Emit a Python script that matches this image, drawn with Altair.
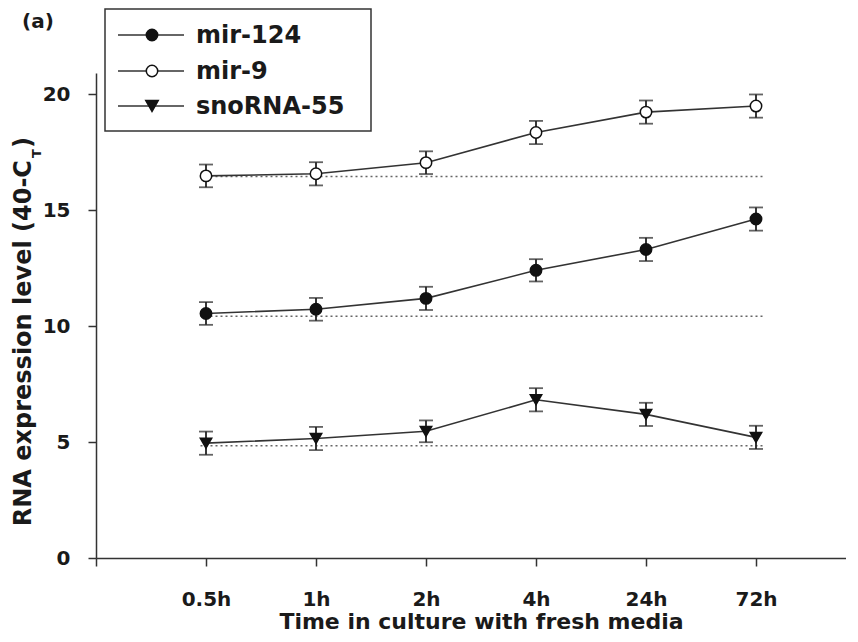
import altair as alt
import pandas as pd

# ---------------- data ----------------
times = ["0.5h", "1h", "2h", "4h", "24h", "72h"]
series_names = ["mir-124", "mir-9", "snoRNA-55"]

mir124 = [10.54, 10.72, 11.19, 12.40, 13.30, 14.61]
mir124_err = [0.49, 0.49, 0.50, 0.48, 0.50, 0.50]

mir9 = [16.47, 16.56, 17.04, 18.34, 19.22, 19.48]
mir9_err = [0.49, 0.50, 0.49, 0.50, 0.50, 0.50]

sno55 = [4.95, 5.15, 5.46, 6.82, 6.19, 5.20]
sno55_err = [0.50, 0.50, 0.47, 0.50, 0.50, 0.50]

baselines = [10.42, 16.44, 4.84]          # dotted reference levels
baseline_span = [0.95, 6.08]              # x extent of dotted lines (in slot units)
y_ticks = [0, 5, 10, 15, 20]

# ---------------- tables ----------------
rows = []
for name, vals, errs in zip(series_names, [mir124, mir9, sno55],
                            [mir124_err, mir9_err, sno55_err]):
    for i, (v, e) in enumerate(zip(vals, errs)):
        rows.append(dict(series=name, pos=i + 1, time=times[i],
                         value=v, lo=v - e, hi=v + e))
df = pd.DataFrame(rows)
base_df = pd.DataFrame({"series": series_names, "level": baselines,
                        "x0": baseline_span[0], "x1": baseline_span[1]})

# ---------------- layout ----------------
W, H = 750, 485
PX_PER_SLOT = 110
PX_PER_UNIT = 23.2
FONT = "DejaVu Sans"
INK = "#1a1a1a"

xs = alt.Scale(domain=[0, W / PX_PER_SLOT], nice=False, zero=False)
ys = alt.Scale(domain=[0, H / PX_PER_UNIT], nice=False, zero=True)

label_expr = "[" + ",".join(["''"] + ["'%s'" % t for t in times]) + "][datum.value]"

x_axis = alt.Axis(values=list(range(0, len(times) + 1)), labelExpr=label_expr,
                  title="Time in culture with fresh media", grid=False,
                  tickSize=8, tickWidth=1.5, tickColor="#333",
                  domainColor="#333", domainWidth=1.5,
                  labelFont=FONT, labelFontWeight="bold", labelFontSize=20,
                  labelColor=INK, labelPadding=23, labelBaseline="top",
                  titleFont=FONT, titleFontWeight="bold", titleFontSize=22,
                  titleColor=INK, titleX=385, titleY=70, titleAlign="center",
                  titleBaseline="alphabetic")
y_axis = alt.Axis(values=y_ticks, title=None, grid=False,
                  tickSize=8, tickWidth=1.5, tickColor="#333",
                  domainColor="#333", domainWidth=1.5,
                  labelFont=FONT, labelFontWeight="bold", labelFontSize=20,
                  labelColor=INK, labelPadding=18)

X = lambda f: alt.X(f, scale=xs, axis=x_axis)
Y = lambda f: alt.Y(f, scale=ys, axis=y_axis)

base = alt.Chart(df)

dotted = alt.Chart(base_df).mark_rule(
    color="#666", strokeWidth=1.5, strokeDash=[2, 3]
).encode(x=X("x0:Q"), x2="x1:Q", y=Y("level:Q"))

lines = base.mark_line(color="#333", strokeWidth=1.6).encode(
    x=X("pos:Q"), y=Y("value:Q"), detail="series:N", order="pos:Q")

err_rule = base.mark_rule(color="#222", strokeWidth=1.8).encode(
    x=X("pos:Q"), y=Y("lo:Q"), y2="hi:Q")
cap_lo = base.mark_tick(color="#222", orient="horizontal", size=14,
                        thickness=1.8).encode(x=X("pos:Q"), y=Y("lo:Q"))
cap_hi = base.mark_tick(color="#222", orient="horizontal", size=14,
                        thickness=1.8).encode(x=X("pos:Q"), y=Y("hi:Q"))

shape_range = ["circle", "circle", "triangle-down"]
fill_range = ["#111111", "#ffffff", "#111111"]
size_range = [130, 130, 155]

points = base.mark_point(filled=True, stroke="#111", strokeWidth=1.5,
                         opacity=1).encode(
    x=X("pos:Q"), y=Y("value:Q"),
    shape=alt.Shape("series:N", scale=alt.Scale(domain=series_names, range=shape_range), legend=None),
    fill=alt.Fill("series:N", scale=alt.Scale(domain=series_names, range=fill_range), legend=None),
    size=alt.Size("series:N", scale=alt.Scale(domain=series_names, range=size_range), legend=None),
)

one = pd.DataFrame({"k": [0]})

# ---------------- legend (drawn by hand) ----------------
legend_layers = [
    alt.Chart(one).mark_rect(fill="white", stroke="#333", strokeWidth=1.5).encode(
        x=alt.value(9), x2=alt.value(275), y=alt.value(-64), y2=alt.value(58))
]
row_y = [-38, -2, 33]
for i, name in enumerate(series_names):
    legend_layers.append(alt.Chart(one).mark_rule(color="#333", strokeWidth=1.6).encode(
        x=alt.value(22), x2=alt.value(88), y=alt.value(row_y[i])))
    legend_layers.append(alt.Chart(one).mark_point(
        shape=shape_range[i], filled=True, fill=fill_range[i], stroke="#111",
        strokeWidth=1.5, size=size_range[i], opacity=1).encode(
        x=alt.value(56), y=alt.value(row_y[i])))
    legend_layers.append(alt.Chart(one).mark_text(
        text=name, font=FONT, fontWeight="bold", fontSize=24, color=INK,
        align="left", baseline="middle").encode(
        x=alt.value(100), y=alt.value(row_y[i] + 1)))

# ---------------- texts ----------------
panel = alt.Chart(one).mark_text(text="(a)", font=FONT, fontWeight="bold",
                                 fontSize=20, color=INK, align="left",
                                 baseline="middle").encode(
    x=alt.value(-74), y=alt.value(-51))

ytitle_main = alt.Chart(one).mark_text(
    text="RNA expression level (40-C", font=FONT, fontWeight="bold", fontSize=24,
    color=INK, angle=270, align="right", baseline="alphabetic").encode(
    x=alt.value(-65), y=alt.value(87))
ytitle_sub = alt.Chart(one).mark_text(
    text="T", font=FONT, fontWeight="bold", fontSize=13,
    color=INK, angle=270, align="left", baseline="alphabetic").encode(
    x=alt.value(-55), y=alt.value(85))
ytitle_end = alt.Chart(one).mark_text(
    text=")", font=FONT, fontWeight="bold", fontSize=24,
    color=INK, angle=270, align="left", baseline="alphabetic").encode(
    x=alt.value(-65), y=alt.value(75))

chart = alt.layer(
    dotted, lines, err_rule, cap_lo, cap_hi, points,
    *legend_layers, panel, ytitle_main, ytitle_sub, ytitle_end
).properties(
    width=W, height=H,
    autosize=alt.AutoSizeParams(type="none"),
    padding={"left": 88, "top": 65, "right": 0, "bottom": 76},
    background="white",
).configure_view(strokeWidth=0)

chart.save("out.html", embed_options={"renderer": "svg", "actions": False})
